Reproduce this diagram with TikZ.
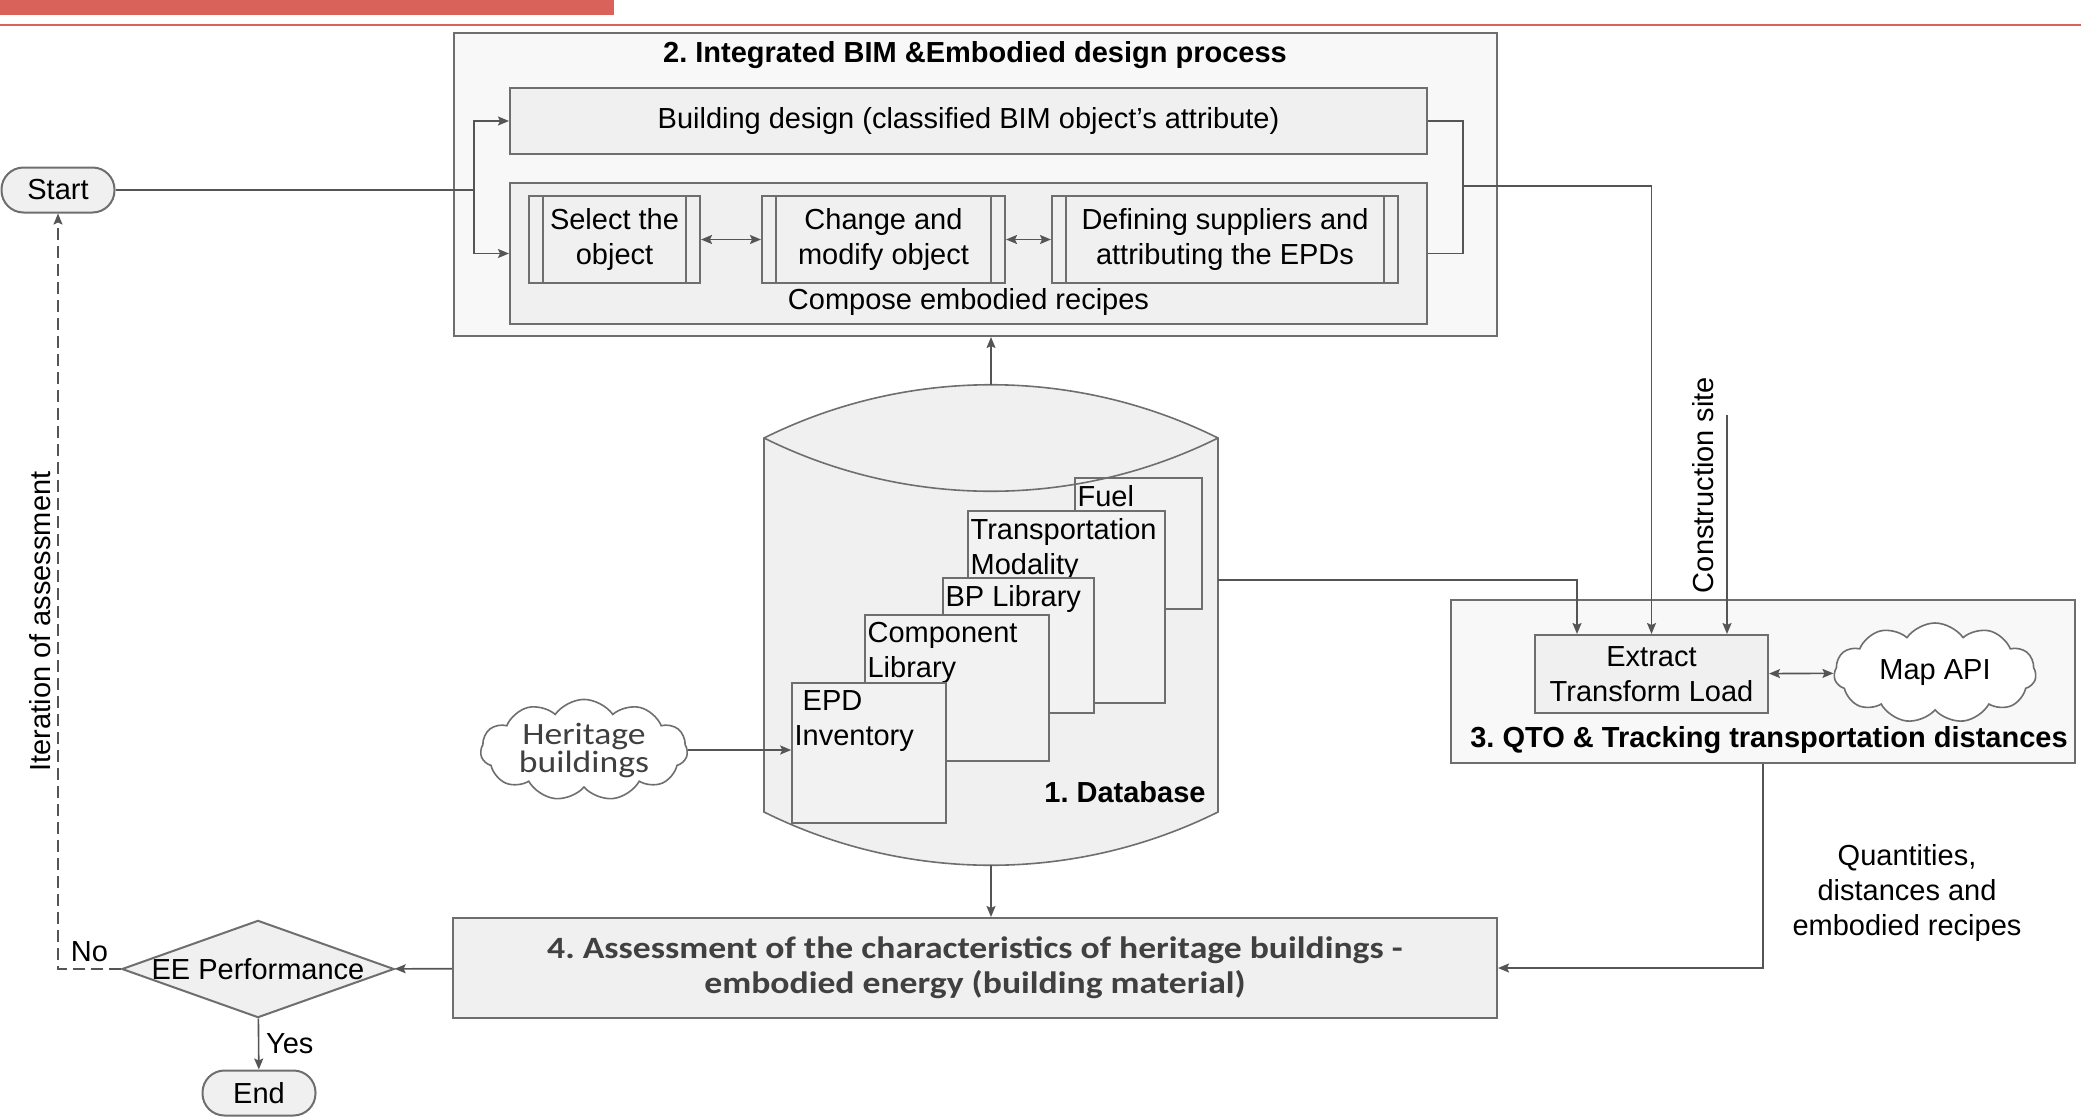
\documentclass[tikz,border=0pt]{standalone}
\usepackage{fontspec}
\setmainfont{Liberation Sans}
\newfontfamily\calfont[FakeStretch=1.15]{Carlito}
\frenchspacing
\usetikzlibrary{shapes}
\usetikzlibrary{calc}
\usetikzlibrary{arrows.meta}

\definecolor{boxline}{HTML}{6E6E6E}
\definecolor{boxfill}{HTML}{F0F0F0}
\definecolor{wire}{HTML}{555555}
\definecolor{hdrred}{HTML}{D9625A}
\definecolor{calgray}{HTML}{404040}

\tikzset{
  box/.style={rectangle, draw=boxline, fill=boxfill, line width=1pt, inner sep=0pt},
  subproc/.style={box, align=center, path picture={
      \draw[boxline, line width=1pt]
        ([xshift=7pt]path picture bounding box.north west) -- ([xshift=7pt]path picture bounding box.south west)
        ([xshift=-7pt]path picture bounding box.north east) -- ([xshift=-7pt]path picture bounding box.south east);}},
  card/.style={rectangle, draw=boxline, fill=white!95!black, line width=0.8pt, inner sep=0pt},
  cardlabel/.style={anchor=north west, inner xsep=1.5pt, inner ysep=4pt, align=left},
  terminal/.style={rectangle, rounded corners=11pt, draw=boxline, fill=boxfill, line width=1pt,
      minimum width=56.5pt, minimum height=22.5pt},
  bubble/.style={cloud, cloud puffs=11, cloud puff arc=110, cloud ignores aspect, draw=boxline,
      fill=white, line width=0.8pt, inner sep=0pt, align=center},
  link/.style={draw=wire, line width=0.8pt},
  heading/.style={font=\fontsize{14.5}{17.3}\selectfont\bfseries},
}

\begin{document}
\begin{tikzpicture}[x=0.5pt, y=-0.5pt, >={Stealth[length=5.5pt, width=4.5pt, inset=1pt]},
    font=\fontsize{14.5}{17.3}\selectfont]
    \useasboundingbox (0,0) rectangle (2081,1119);
    % header strip
    \fill[hdrred] (0,0) rectangle (614,15);
    \draw[hdrred, line width=1pt] (0,25) -- (2081,25);

    % 2. design process
    \node(integ)[box, fill=boxfill!50!white, minimum width=521.5pt, minimum height=151.5pt] at (975.5,184.5) {};
    \node(integtitle)[heading] at (975,55) {2. Integrated BIM \&Embodied design process};
    \node(bimdesign)[box, minimum width=458.5pt, minimum height=33pt] at (968.5,121) {Building design (classified BIM object’s attribute)};
    \node(recipes)[box, minimum width=458.5pt, minimum height=70.5pt] at (968.5,253.5) {};
    \node(recipestitle) at (968.5,302) {Compose embodied recipes};
    \node(select)[subproc, minimum width=85.5pt, minimum height=43.5pt] at (614.5,239.5) {Select the\\object};
    \node(change)[subproc, minimum width=121.5pt, minimum height=43.5pt] at (883.5,239.5) {Change and\\modify object};
    \node(suppliers)[subproc, minimum width=173pt, minimum height=43.5pt] at (1225,239.5) {Defining suppliers and\\attributing the EPDs};
    \draw[<->, link] (select) -- (change);
    \draw[<->, link] (change) -- (suppliers);

    \node(start)[terminal] at (58,190) {Start};
    \coordinate(splitL) at (474,190);
    \draw[link] (start) -- (splitL);
    \draw[->, link] (splitL) |- (bimdesign);
    \draw[->, link] (splitL) |- (recipes);
    \coordinate(splitR) at (1463,186);
    \draw[link] (bimdesign.east) -| (splitR) |- (recipes.east);

    % 1. database
    \node(db)[inner sep=0pt, minimum width=227pt, minimum height=240pt] at (991,625) {};
    \draw[boxline, fill=boxfill, line width=0.8pt]
        (764,438) .. controls (907,367) and (1075,367) .. (1218,438)
        -- (1218,812) .. controls (1075,883) and (907,883) .. (764,812) -- cycle;
    \node(fuel)[card, minimum width=63.5pt, minimum height=65.5pt,
        label={[cardlabel]north west:Fuel}] at (1138.5,543.5) {};
    \node(transp)[card, minimum width=98.5pt, minimum height=96pt,
        label={[cardlabel]north west:Transportation\\Modality}] at (1066.5,607) {};
    \node(bplib)[card, minimum width=75.5pt, minimum height=67.5pt,
        label={[cardlabel]north west:BP Library}] at (1018.5,645.5) {};
    \node(complib)[card, minimum width=92pt, minimum height=73pt,
        label={[cardlabel]north west:Component\\Library}] at (957,688) {};
    \node(epd)[card, minimum width=77pt, minimum height=70pt,
        label={[cardlabel]north west:\ EPD\\Inventory}] at (869,753) {};
    \draw[boxline, line width=0.8pt] (764,438) .. controls (907,509) and (1075,509) .. (1218,438);
    \node(dbtitle)[heading] at (1125,792) {1. Database};
    \draw[->, link] (db.north) -- (db.north |- integ.south);

    \node(heritage)[bubble, minimum width=103.5pt, minimum height=50.5pt, text=calgray,
        font=\calfont\fontsize{15.5}{14}\selectfont] at (584,750) {Heritage\\buildings};
    \draw[->, link] (heritage) -- (heritage -| epd.west);

    % 3. QTO
    \node(qto)[box, fill=boxfill!50!white, minimum width=312pt, minimum height=81.5pt] at (1763,681.5) {};
    \node(qtotitle)[heading] at (1769,740) {3. QTO \& Tracking transportation distances};
    \node(etl)[box, align=center, minimum width=116.5pt, minimum height=39pt] at (1651.5,674) {Extract\\Transform Load};
    \node(mapapi)[bubble, minimum width=101pt, minimum height=50pt] at (1935,673) {Map API};
    \draw[<->, link] (etl) -- (mapapi);
    \draw[->, link] (splitR) -| (etl);
    \coordinate(dbout) at (1218,580);
    \draw[->, link] (dbout) -| ([xshift=-37.25pt]etl.north);
    \coordinate(site) at (1727,415);
    \draw[->, link] (site) -- (site |- etl.north);
    \node(sitelabel)[rotate=90] at (1703,485) {Construction site};

    % 4. assessment
    \node(assess)[box, minimum width=522pt, minimum height=50pt, align=center, text=calgray,
        font=\calfont\fontsize{15.5}{17.5}\selectfont\bfseries] at (975,968)
        {4. Assessment of the characteristics of heritage buildings -\\embodied energy (building material)};
    \draw[->, link] (db.south) -- (db.south |- assess.north);
    \draw[->, link] (qto.south) |- (assess.east);
    \node(quantities)[align=center] at (1907,893) {Quantities,\\distances and\\embodied recipes};

    \node(decision)[diamond, aspect=2.8, inner sep=0pt, draw=boxline, fill=boxfill, line width=1pt] at (258,969) {EE Performance};
    \node(end)[terminal] at (259,1093) {End};
    \draw[->, link] (assess) -- (decision);
    \draw[->, link] (decision) -- (end) node(yes)[midway, right] {Yes};
    \draw[->, link, dash pattern=on 6pt off 3pt] (decision) -| (start)
        node(no)[pos=0.25, above] {No}
        node(iteration)[pos=0.73, rotate=90, above] {Iteration of assessment};
\end{tikzpicture}
\end{document}
